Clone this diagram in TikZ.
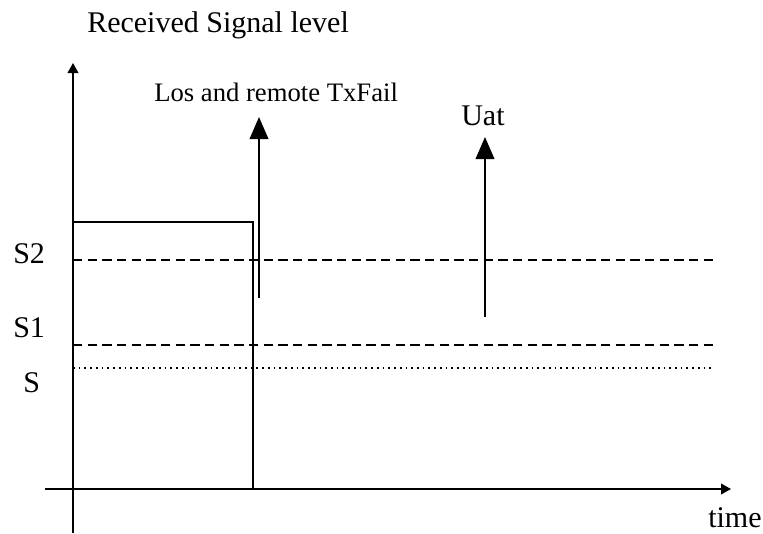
\documentclass[tikz,border=0pt]{standalone}
\usepackage{fontspec}
\setmainfont{Liberation Serif}
\usetikzlibrary{arrows.meta}
\begin{document}
\begin{tikzpicture}[x=0.75pt,y=-0.75pt,
  axis/.style={line width=1.3pt,-{Triangle[length=7.5pt,width=8pt]}},
  sig/.style={line width=1.8pt},
  evt/.style={line width=1.2pt,-{Triangle[length=16.5pt,width=14pt]}},
  lvl/.style={line width=1.2pt,dash pattern=on 7pt off 4pt},
  dot/.style={line width=1.3pt,dash pattern=on 1.3pt off 3pt},
  lbl/.style={inner sep=0pt,anchor=base west,font=\fontsize{22.5}{27}\selectfont},
  lbls/.style={inner sep=0pt,anchor=base west,font=\fontsize{20}{24}\selectfont}]
\useasboundingbox (0,0) rectangle (763,533);
% axes
\coordinate (yb) at (73,533); \coordinate (yt) at (73,63);
\coordinate (xl) at (45,489); \coordinate (xr) at (731,489);
\draw[axis] (yb) -- (yt);
\draw[axis] (xl) -- (xr);
% levels
\coordinate (s2l) at (73,260); \coordinate (s2r) at (717,260);
\coordinate (s1l) at (73,345); \coordinate (s1r) at (717,345);
\coordinate (sl) at (73,368); \coordinate (sr) at (714,368);
\draw[lvl] (s2l) -- (s2r);
\draw[lvl] (s1l) -- (s1r);
\draw[dot] (sl) -- (sr);
% signal
\coordinate (r1) at (73,222); \coordinate (r2) at (253,222); \coordinate (r3) at (253,489);
\draw[sig] (r1) -- (r2) -- (r3);
% events
\coordinate (la) at (259,298); \coordinate (lb) at (259,117);
\coordinate (ua) at (485,317); \coordinate (ub) at (485,137);
\draw[evt] (la) -- (lb);
\draw[evt] (ua) -- (ub);
% labels
\node[lbl] (title) at (87,32) {Received Signal level};
\node[lbls] (los) at (154,101) {Los and remote TxFail};
\node[lbl] (uat) at (461,125) {Uat};
\node[lbl] (ls2) at (13,263) {S2};
\node[lbl] (ls1) at (13,337) {S1};
\node[lbl] (ls) at (23,392) {S};
\node[lbl] (time) at (708,527) {time};
\end{tikzpicture}
\end{document}
